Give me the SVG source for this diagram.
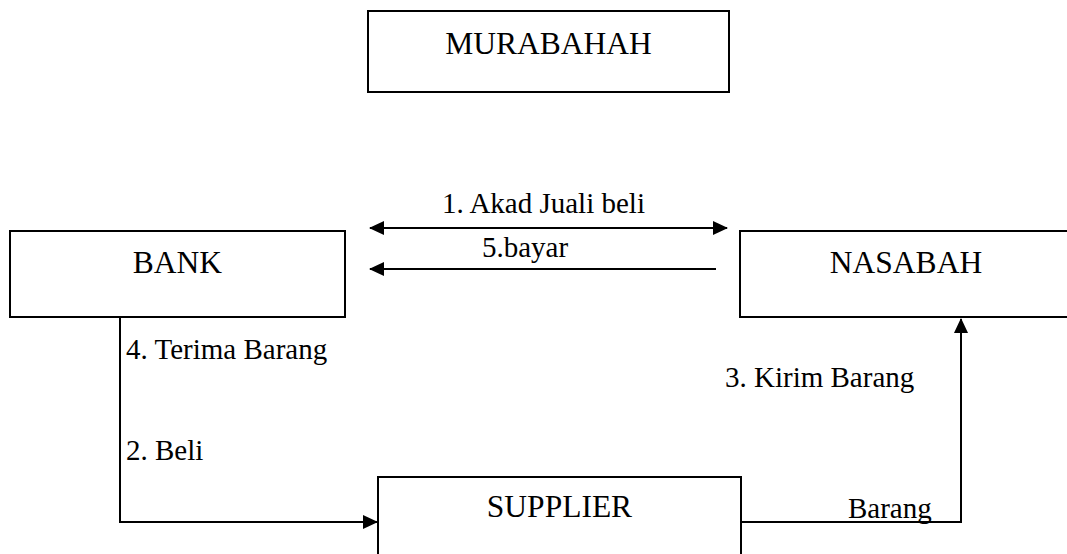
<svg xmlns="http://www.w3.org/2000/svg" width="1067" height="554" viewBox="0 0 1067 554">
<style>
.box{fill:#fff;stroke:#000;stroke-width:2}
.ln{fill:none;stroke:#000;stroke-width:2}
text{font-family:'Liberation Serif','Times New Roman','DejaVu Serif',Times,serif;fill:#000}
.n{font-size:31.5px;text-anchor:middle}
.l{font-size:29px}
</style>
<defs>
<marker id="ah" markerUnits="userSpaceOnUse" markerWidth="16" markerHeight="14" viewBox="0 0 16 14" refX="14" refY="7" orient="auto-start-reverse">
<path d="M0,0 L15,7 L0,14 Z" fill="#000"/>
</marker>
</defs>
<rect width="1067" height="554" fill="#fff"/>
<g id="murabahah">
<rect class="box" x="368" y="11" width="361" height="81"/>
<text class="n" font-family="Liberation Serif, serif" x="548.5" y="54">MURABAHAH</text>
</g>
<g id="bank">
<rect class="box" x="10" y="231" width="335" height="86"/>
<text class="n" font-family="Liberation Serif, serif" x="177.5" y="273">BANK</text>
</g>
<g id="nasabah">
<rect class="box" x="740" y="231" width="335" height="86"/>
<text class="n" font-family="Liberation Serif, serif" x="906" y="273">NASABAH</text>
</g>
<g id="supplier">
<rect class="box" x="378" y="477" width="363" height="90"/>
<text class="n" font-family="Liberation Serif, serif" x="559.5" y="517">SUPPLIER</text>
</g>
<g id="connectors">
<line class="ln" x1="370" y1="228" x2="727" y2="228" marker-start="url(#ah)" marker-end="url(#ah)"/>
<line class="ln" x1="716" y1="269" x2="370" y2="269" marker-end="url(#ah)"/>
<path class="ln" d="M120,317 V522 H377" marker-end="url(#ah)"/>
<path class="ln" d="M741,522 H961 V319" marker-end="url(#ah)"/>
</g>
<g id="labels">
<text class="l" font-family="Liberation Serif, serif" x="442" y="213">1. Akad Juali beli</text>
<text class="l" font-family="Liberation Serif, serif" x="482" y="257">5.bayar</text>
<text class="l" font-family="Liberation Serif, serif" x="126" y="359">4. Terima Barang</text>
<text class="l" font-family="Liberation Serif, serif" x="126" y="460">2. Beli</text>
<text class="l" font-family="Liberation Serif, serif" x="725" y="387">3. Kirim Barang</text>
<text class="l" font-family="Liberation Serif, serif" x="848" y="518">Barang</text>
</g>
</svg>
